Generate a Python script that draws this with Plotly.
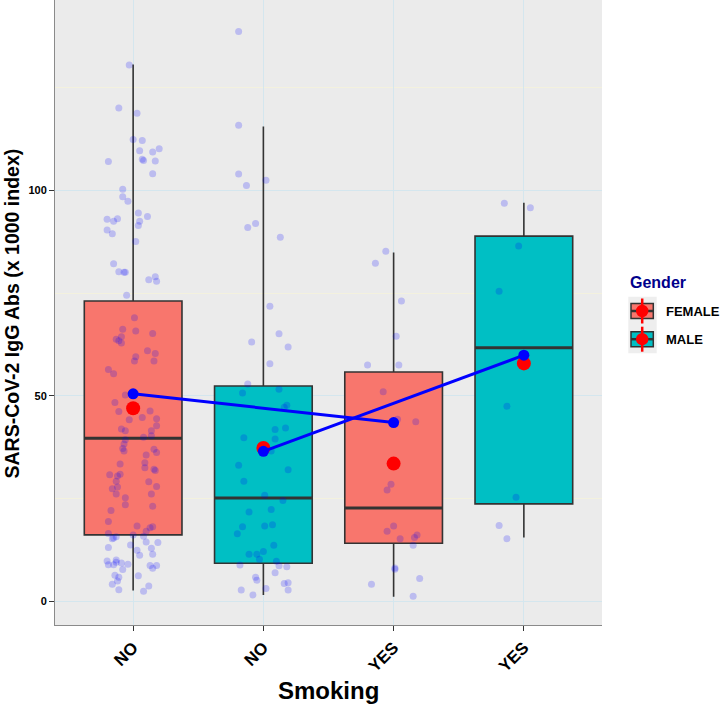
import plotly.graph_objects as go

# ---------------- data ----------------
categories = ["NO", "NO", "YES", "YES"]          # Smoking, per box (x = 1..4)
genders = ["FEMALE", "MALE", "FEMALE", "MALE"]

# box statistics
lower_whisker = [2.6, 1.5, 1.05, 15.5]
q1_vals = [16.15, 9.25, 14.1, 23.7]
median_vals = [39.7, 25.1, 22.7, 61.7]
q3_vals = [73.1, 52.4, 55.8, 88.9]
upper_whisker = [130.7, 115.6, 84.9, 97.0]

# summary points
mean_red = [47.0, 37.3, 33.5, 57.9]
mean_blue = [50.5, 36.5, 43.5, 59.9]

# jittered observations: values and jitter offsets (category units)
obs_no_female = [130.6, 120.1, 118.8, 112.4, 112.2, 109.7, 109.4, 110.2, 107.6, 107.3,
                 107.2, 107.1, 104.1, 100.3, 98.5, 97.4, 94.5, 93.7, 93.0, 92.5,
                 93.1, 92.5, 91.5, 90.4, 89.5, 87.6, 82.2, 80.2, 80.1, 80.1,
                 78.3, 79.0, 77.9, 74.5, 69.0, 66.2, 65.8, 65.2, 64.4, 63.8,
                 63.4, 62.9, 61.0, 60.3, 59.5, 58.5, 58.5, 56.4, 55.4, 50.2,
                 48.4, 46.2, 46.3, 44.2, 44.7, 44.4, 42.7, 41.9, 41.5, 41.5,
                 40.3, 39.9, 39.3, 38.3, 37.2, 36.6, 37.0, 36.2, 35.6, 33.4,
                 33.7, 32.5, 32.1, 31.8, 30.8, 30.5, 30.9, 29.2, 29.1, 27.8,
                 27.4, 27.9, 26.1, 26.1, 25.2, 23.5, 23.1, 22.1, 19.4, 18.3,
                 17.9, 18.1, 17.0, 16.5, 15.4, 15.7, 15.2, 16.1, 15.8, 14.3,
                 14.4, 13.7, 13.1, 12.9, 12.4, 11.2, 11.4, 9.8, 10.0, 8.9,
                 8.9, 9.5, 9.3, 9.0, 8.7, 8.7, 8.0, 7.7, 6.3, 5.8,
                 4.9, 6.2, 4.1, 3.7, 2.4, 2.8]
jit_no_female = [-0.03, -0.11, 0.03, 0.00, 0.07, 0.05, 0.15, 0.20, 0.07, 0.08,
                 0.17, -0.19, 0.15, -0.08, -0.08, -0.04, 0.04, 0.11, -0.20, -0.15,
                 -0.12, 0.05, 0.04, -0.20, -0.16, 0.02, -0.15, -0.11, -0.07, -0.06,
                 0.12, 0.17, 0.18, -0.05, 0.01, -0.08, 0.02, 0.15, -0.09, -0.13,
                 -0.11, -0.09, 0.11, 0.17, 0.02, 0.01, 0.16, -0.19, -0.15, -0.06,
                 -0.14, -0.11, 0.13, -0.03, 0.07, 0.18, 0.18, -0.09, -0.06, 0.14,
                 0.14, 0.08, -0.06, -0.07, -0.08, -0.07, 0.16, 0.18, 0.10, -0.10,
                 0.09, 0.09, 0.16, 0.17, -0.18, -0.12, -0.10, -0.13, 0.12, -0.12,
                 -0.16, 0.18, -0.13, 0.14, -0.06, -0.06, 0.15, -0.17, -0.19, 0.03,
                 0.13, 0.15, 0.10, -0.19, -0.15, -0.13, -0.16, 0.00, 0.08, 0.19,
                 0.10, -0.02, -0.19, 0.14, 0.03, 0.05, 0.15, -0.20, -0.13, -0.19,
                 -0.15, -0.13, -0.09, -0.04, 0.13, 0.18, 0.15, -0.08, -0.14, -0.11,
                 -0.12, 0.04, -0.16, 0.12, 0.08, -0.11]

obs_no_male = [138.7, 115.9, 104.0, 101.2, 102.5, 91.0, 92.0, 88.6, 71.8, 65.1,
               63.1, 61.9, 57.8, 52.9, 50.7, 51.6, 47.2, 47.7, 41.8, 42.2,
               39.5, 39.8, 36.6, 33.1, 32.0, 29.2, 25.8, 24.5, 21.7, 22.3,
               18.1, 16.4, 18.3, 18.6, 13.6, 11.4, 11.4, 12.1, 10.2, 9.7,
               8.6, 8.4, 8.8, 6.9, 5.8, 5.1, 4.3, 4.5, 3.1, 2.7,
               2.7, 1.5]
jit_no_male = [-0.19, -0.19, -0.19, -0.13, 0.02, -0.12, -0.06, 0.13, 0.05, 0.12,
               -0.09, 0.19, 0.05, -0.12, -0.16, 0.12, 0.16, 0.18, 0.09, 0.17,
               0.09, -0.15, 0.06, -0.19, 0.19, -0.15, 0.01, 0.15, -0.11, 0.06,
               -0.16, -0.20, 0.01, 0.07, 0.08, -0.11, -0.05, 0.00, -0.03, 0.10,
               0.12, 0.18, -0.18, 0.09, -0.06, -0.05, 0.16, 0.19, 0.02, -0.17,
               0.19, -0.08]

obs_yes_female = [85.2, 82.3, 73.1, 64.5, 57.5, 57.5, 51.0, 44.3, 43.7, 28.5,
                  27.1, 18.3, 17.0, 15.2, 15.5, 16.1, 13.6, 8.1, 7.8, 5.5,
                  4.1, 1.2]
jit_yes_female = [-0.06, -0.14, 0.06, 0.02, -0.20, 0.04, -0.08, 0.03, 0.17, -0.02,
                  -0.05, 0.00, -0.05, 0.05, 0.16, 0.18, 0.15, 0.01, 0.01, 0.20,
                  -0.17, 0.15]

obs_yes_male = [96.9, 95.8, 86.5, 75.5, 47.5, 25.3, 18.4, 15.2]
jit_yes_male = [-0.15, 0.05, -0.04, -0.19, -0.13, -0.06, -0.19, -0.13]

observations = [obs_no_female, obs_no_male, obs_yes_female, obs_yes_male]
jitters = [jit_no_female, jit_no_male, jit_yes_female, jit_yes_male]

# ---------------- styling ----------------
FONT = "Liberation Sans"
FILL = {"FEMALE": "#F8766D", "MALE": "#00BFC4"}
BOX_W = 0.75
positions = [1, 2, 3, 4]

fig = go.Figure()

# boxes
for g in ["FEMALE", "MALE"]:
    idx = [i for i, gg in enumerate(genders) if gg == g]
    fig.add_trace(go.Box(
        x=[positions[i] for i in idx],
        q1=[q1_vals[i] for i in idx],
        median=[median_vals[i] for i in idx],
        q3=[q3_vals[i] for i in idx],
        lowerfence=[lower_whisker[i] for i in idx],
        upperfence=[upper_whisker[i] for i in idx],
        width=BOX_W, whiskerwidth=0, boxpoints=False,
        fillcolor=FILL[g], line=dict(color="#333333", width=1.6),
        showlegend=False, hoverinfo="skip"))

# thicker median bars
mx, my = [], []
for p, m in zip(positions, median_vals):
    mx += [p - BOX_W / 2, p + BOX_W / 2, None]
    my += [m, m, None]
fig.add_trace(go.Scatter(x=mx, y=my, mode="lines",
                         line=dict(color="#333333", width=3),
                         showlegend=False, hoverinfo="skip"))

# jittered points
for p, obs, jit in zip(positions, observations, jitters):
    fig.add_trace(go.Scatter(
        x=[p + j for j in jit], y=obs, mode="markers",
        marker=dict(size=7, color="rgba(0,0,255,0.2)", line=dict(width=0)),
        showlegend=False, hoverinfo="skip"))

# red mean points
fig.add_trace(go.Scatter(x=positions, y=mean_red, mode="markers",
                         marker=dict(size=14, color="#FF0000"),
                         showlegend=False))

# blue lines per gender
for g in ["FEMALE", "MALE"]:
    idx = [i for i, gg in enumerate(genders) if gg == g]
    fig.add_trace(go.Scatter(
        x=[positions[i] for i in idx], y=[mean_blue[i] for i in idx],
        mode="lines+markers",
        line=dict(color="#0000FF", width=3),
        marker=dict(size=11, color="#0000FF"),
        showlegend=False))

# ---------------- layout ----------------
L, R, T, B = 55, 118, 0, 81
W, H = 720, 706
PW, PH = W - L - R, H - T - B


def px(x):
    return (x - L) / PW


def py(y):
    return (H - B - y) / PH


shapes = []
annotations = []

# manual legend
shapes.append(dict(type="rect", xref="paper", yref="paper",
                   x0=px(628.3), x1=px(656.7), y0=py(353.3), y1=py(296.7),
                   fillcolor="#eeeeee", line=dict(width=0), layer="above"))
for g, cy in [("FEMALE", 311.0), ("MALE", 339.2)]:
    shapes.append(dict(type="rect", xref="paper", yref="paper",
                       x0=px(631), x1=px(653.3), y0=py(cy + 7.5), y1=py(cy - 7.5),
                       fillcolor=FILL[g], line=dict(color="#333333", width=1.5),
                       layer="above"))
    shapes.append(dict(type="line", xref="paper", yref="paper",
                       x0=px(631), x1=px(653.3), y0=py(cy), y1=py(cy),
                       line=dict(color="#333333", width=2.5), layer="above"))
    shapes.append(dict(type="line", xref="paper", yref="paper",
                       x0=px(642.2), x1=px(642.2), y0=py(cy + 12.5), y1=py(cy - 12.5),
                       line=dict(color="#FF0000", width=2.5), layer="above"))
    shapes.append(dict(type="circle", xref="paper", yref="paper",
                       x0=px(636), x1=px(648.4), y0=py(cy + 6.2), y1=py(cy - 6.2),
                       fillcolor="#FF0000", line=dict(width=0), layer="above"))
    annotations.append(dict(text=g, xref="paper", yref="paper",
                            x=px(664), y=py(cy), xanchor="left", yanchor="middle",
                            showarrow=False,
                            font=dict(family=FONT, size=13, color="black", weight="bold")))

annotations.append(dict(text="Gender", xref="paper", yref="paper",
                        x=px(627.5), y=py(282), xanchor="left", yanchor="middle",
                        showarrow=False,
                        font=dict(family=FONT, size=16, color="#00008B", weight="bold")))

# axis titles
annotations.append(dict(text="SARS-CoV-2 IgG Abs (x 1000 index)", xref="paper", yref="paper",
                        x=px(11), y=py(313.5), xanchor="center", yanchor="middle",
                        textangle=-90, showarrow=False,
                        font=dict(family=FONT, size=19.5, color="black", weight="bold")))
annotations.append(dict(text="Smoking", xref="paper", yref="paper",
                        x=0.5, y=py(690), xanchor="center", yanchor="middle",
                        showarrow=False,
                        font=dict(family=FONT, size=24, color="black", weight="bold")))

fig.update_layout(
    width=W, height=H,
    margin=dict(l=L, r=R, t=T, b=B),
    paper_bgcolor="white", plot_bgcolor="#ebebeb",
    font=dict(family=FONT, color="black"),
    showlegend=False,
    shapes=shapes, annotations=annotations,
    xaxis=dict(range=[0.4, 4.6], tickmode="array", tickvals=positions, ticktext=categories,
               tickangle=-45, showgrid=True, gridcolor="#d4e6ee", gridwidth=1,
               zeroline=False, showline=True, linecolor="#8a8a8a", linewidth=1,
               ticks="outside", ticklen=5, tickcolor="#333333",
               tickfont=dict(family=FONT, size=17, color="black", weight="bold")),
    yaxis=dict(range=[-5.8, 146.4], tickmode="array", tickvals=[0, 50, 100],
               showgrid=True, gridcolor="#d4e6ee", gridwidth=1,
               minor=dict(tickmode="array", tickvals=[25, 75, 125], showgrid=True,
                          gridcolor="#f3f1de", gridwidth=1, ticks=""),
               zeroline=False, showline=True, linecolor="#8a8a8a", linewidth=1,
               ticks="outside", ticklen=5, tickcolor="#333333",
               tickfont=dict(family=FONT, size=11, color="black", weight="bold")),
)

fig.write_html(
    "out.html",
    config={"displayModeBar": False},
    post_script="document.body.style.margin='0';document.body.style.overflow='hidden';",
)
